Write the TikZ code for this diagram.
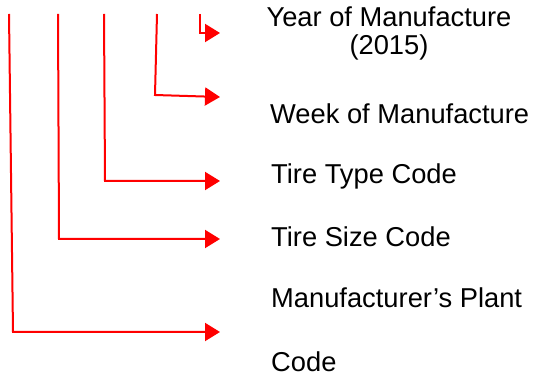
\documentclass[tikz,border=0pt]{standalone}
\usepackage{fontspec}
\setmainfont{Liberation Sans}
\usetikzlibrary{arrows.meta}
\begin{document}
\begin{tikzpicture}[x=1pt,y=-1pt,
  lbl/.style={inner sep=0pt,font=\fontsize{27.3}{28}\selectfont},
  conn/.style={draw={rgb,255:red,255;green,0;blue,0},line width=2pt,line join=miter,
    -{Triangle[length=15pt,width=18pt]}}]
\useasboundingbox (0,0) rectangle (533,379);
% text labels
\node[lbl,align=center,anchor=base] (year) at (389,55) {Year of Manufacture\\(2015)};
\node[lbl,anchor=base west] (week) at (270,124) {Week of Manufacture};
\node[lbl,anchor=base west] (type) at (271,184) {Tire Type Code};
\node[lbl,anchor=base west] (size) at (271,247) {Tire Size Code};
\node[lbl,anchor=base west] (plant) at (271,308) {Manufacturer’s Plant};
\node[lbl,anchor=base west] (code) at (271,372) {Code};
% connector points
\coordinate (s1) at (9,14);   \coordinate (b1) at (13,332);  \coordinate (e1) at (220,332);
\coordinate (s2) at (58,14);  \coordinate (b2) at (59,239);  \coordinate (e2) at (220,239);
\coordinate (s3) at (104,14); \coordinate (b3) at (105,181); \coordinate (e3) at (220,181);
\coordinate (s4) at (157,14); \coordinate (b4) at (155,95);  \coordinate (e4) at (220,97);
\coordinate (s5) at (200,14); \coordinate (b5) at (200,33);  \coordinate (e5) at (220,33);
\draw[conn] (s1) -- (b1) -- (e1);
\draw[conn] (s2) -- (b2) -- (e2);
\draw[conn] (s3) -- (b3) -- (e3);
\draw[conn] (s4) -- (b4) -- (e4);
\draw[conn] (s5) -- (b5) -- (e5);
\end{tikzpicture}
\end{document}
